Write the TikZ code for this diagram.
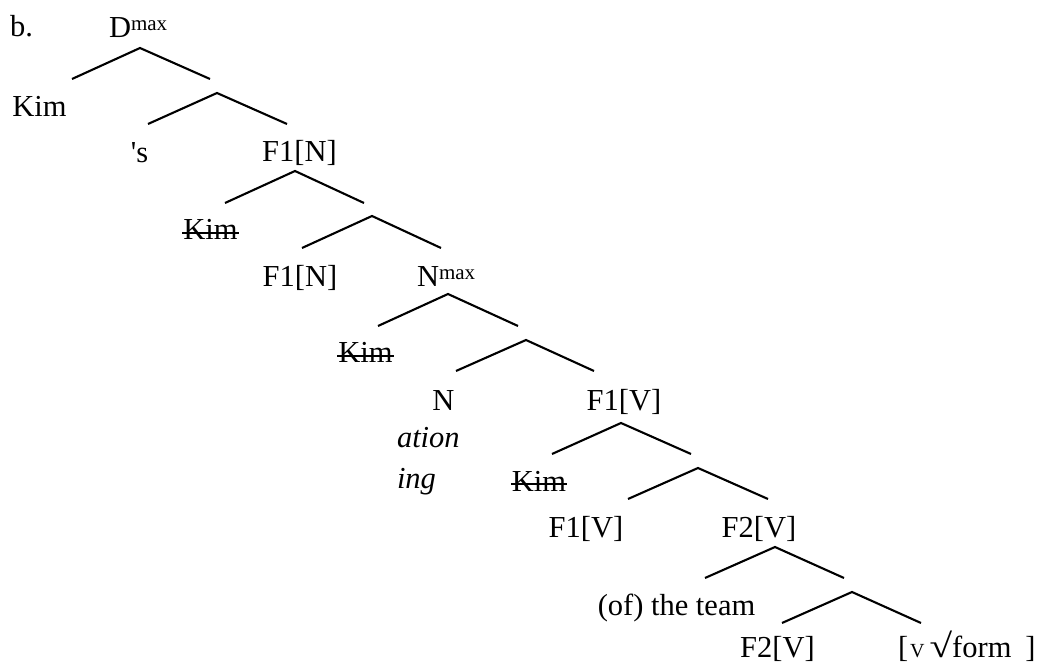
\documentclass[tikz,border=0pt]{standalone}
\usepackage{fontspec}
\setmainfont{Liberation Serif}
\newcommand\mysup[1]{\raisebox{7pt}{\fontsize{21}{21}\selectfont #1}}
\begin{document}
\begin{tikzpicture}[x=1pt,y=-1pt,
  lbl/.style={inner sep=0pt, outer sep=0pt, anchor=base, font=\fontsize{30.5}{36}\selectfont},
  lblw/.style={lbl, anchor=base west},
  br/.style={line width=2.1pt},
  strk/.style={line width=1.6pt}]
\useasboundingbox (0,0) rectangle (1045,668);
% labels
\node[lblw] (b) at (10,37) {b.};
\node[lblw] (dmax) at (109,38) {D\mysup{max}};
\node[lbl] (kim1) at (39.5,117) {Kim};
\node[lbl] (s) at (139.5,163) {\textquotesingle s};
\node[lbl] (f1n1) at (299.5,162) {F1[N]};
\node[lbl] (kim2) at (210.5,240) {Kim};
\node[lbl] (f1n2) at (300,287) {F1[N]};
\node[lblw] (nmax) at (417,287) {N\mysup{max}};
\node[lbl] (kim3) at (365.5,363) {Kim};
\node[lbl] (n) at (443.5,410) {N};
\node[lbl] (f1v1) at (624,410) {F1[V]};
\node[lblw] (ation) at (397,447) {\itshape ation};
\node[lblw] (ing) at (397,489) {\itshape ing};
\node[lbl] (kim4) at (539,491) {Kim};
\node[lbl] (f1v2) at (586,537) {F1[V]};
\node[lbl] (f2v1) at (759,537) {F2[V]};
\node[lbl] (team) at (676.5,615) {(of) the team};
\node[lbl] (f2v2) at (777.5,657) {F2[V]};
\node[lblw] (root) at (898,657) {[\hspace{2pt}{\fontsize{20}{20}\selectfont V}\hspace{5pt}\scalebox{1.35}[1.1]{√}form\hspace{14pt}]};
% strike-through
\foreach \k in {kim2,kim3,kim4}
  \draw[strk] ([shift={(-1,-7)}]\k.base west) -- ([shift={(1,-7)}]\k.base east);
% branch coordinates
\coordinate (a1) at (140,48);  \coordinate (l1) at (72,79);   \coordinate (r1) at (210,79);
\coordinate (a2) at (217,93);  \coordinate (l2) at (148,124);  \coordinate (r2) at (287,124);
\coordinate (a3) at (295,171); \coordinate (l3) at (225,203);  \coordinate (r3) at (364,203);
\coordinate (a4) at (372,216); \coordinate (l4) at (302,248);  \coordinate (r4) at (441,248);
\coordinate (a5) at (448,294); \coordinate (l5) at (378,326);  \coordinate (r5) at (518,326);
\coordinate (a6) at (526,340); \coordinate (l6) at (456,371);  \coordinate (r6) at (594,371);
\coordinate (a7) at (621,423); \coordinate (l7) at (552,454);  \coordinate (r7) at (691,454);
\coordinate (a8) at (698,468); \coordinate (l8) at (628,499);  \coordinate (r8) at (768,499);
\coordinate (a9) at (775,547); \coordinate (l9) at (705,578);  \coordinate (r9) at (844,578);
\coordinate (a10) at (852,592); \coordinate (l10) at (782,623); \coordinate (r10) at (921,623);
\foreach \i in {1,...,10}
  \draw[br] (l\i) -- (a\i) -- (r\i);
\end{tikzpicture}
\end{document}
